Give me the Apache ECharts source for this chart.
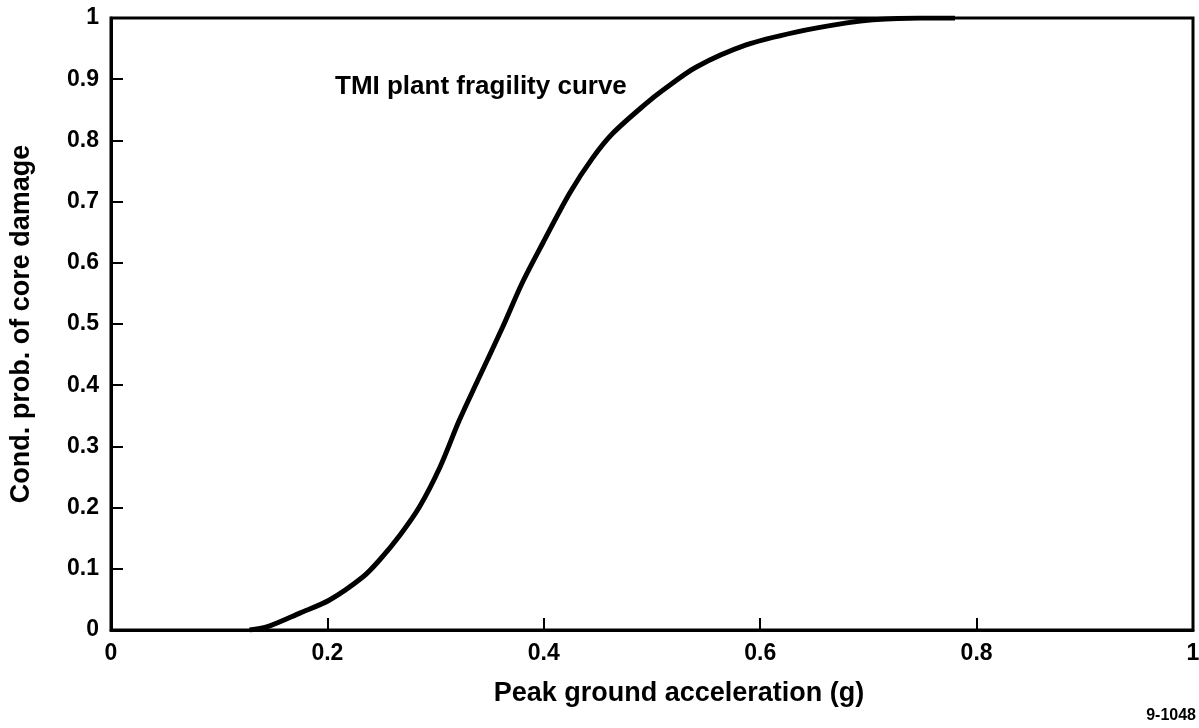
<!DOCTYPE html>
<html>
<head>
<meta charset="utf-8">
<script src="https://cdn.jsdelivr.net/npm/echarts@6/dist/echarts.min.js"></script>
<style>html,body{margin:0;padding:0;background:#fff}#c{width:1199px;height:728px}</style>
</head>
<body>
<div id="c"></div>
<script>
const accel = [0.128, 0.144, 0.175, 0.202, 0.233, 0.248, 0.267, 0.285, 0.304, 0.322, 0.339, 0.362, 0.380, 0.399, 0.424, 0.445, 0.464, 0.495, 0.510, 0.541, 0.587, 0.633, 0.680, 0.704, 0.747, 0.780];
const prob  = [0.000, 0.005, 0.028, 0.049, 0.087, 0.114, 0.155, 0.201, 0.266, 0.343, 0.408, 0.495, 0.567, 0.632, 0.714, 0.771, 0.812, 0.861, 0.882, 0.920, 0.956, 0.977, 0.992, 0.997, 1.000, 1.000];
const xTicks = ['0', '0.2', '0.4', '0.6', '0.8', '1'];
const yTicks = ['0', '0.1', '0.2', '0.3', '0.4', '0.5', '0.6', '0.7', '0.8', '0.9', '1'];
const curveLabel = 'TMI plant fragility curve';
const xTitle = 'Peak ground acceleration (g)';
const yTitle = 'Cond. prob. of core damage';
const figId = '9-1048';

const chart = echarts.init(document.getElementById('c'));
const FONT = '"Liberation Sans", Arial, sans-serif';
chart.setOption({
  animation: false,
  backgroundColor: '#fff',
  grid: { left: 111, right: 6, top: 18, bottom: 98, containLabel: false, outerBoundsMode: 'none',
    show: true, borderColor: '#000', borderWidth: 3, backgroundColor: 'transparent' },
  xAxis: {
    type: 'value', min: 0, max: 1, interval: 0.2,
    axisLine: { show: true, lineStyle: { color: '#000', width: 3 } },
    axisTick: { show: true, inside: true, length: 12, lineStyle: { color: '#000', width: 2 } },
    splitLine: { show: false },
    axisLabel: { color: '#000', fontFamily: FONT, fontWeight: 'bold', fontSize: 23, margin: 12,
      formatter: v => xTicks[Math.round(v * 5)] }
  },
  yAxis: {
    type: 'value', min: 0, max: 1, interval: 0.1,
    name: yTitle, nameLocation: 'middle', nameGap: 76, nameRotate: 90,
    nameTextStyle: { color: '#000', fontFamily: FONT, fontWeight: 'bold', fontSize: 27 },
    axisLine: { show: true, lineStyle: { color: '#000', width: 3 } },
    axisTick: { show: true, inside: true, length: 12, lineStyle: { color: '#000', width: 2 } },
    splitLine: { show: false },
    axisLabel: { color: '#000', fontFamily: FONT, fontWeight: 'bold', fontSize: 23, margin: 12,
      formatter: v => yTicks[Math.round(v * 10)] }
  },
  graphic: [
    { type: 'text', left: 335, top: 74, style: { text: curveLabel, fill: '#000', font: 'bold 26px ' + FONT } },
    { type: 'text', x: 679, y: 694, style: { text: xTitle, fill: '#000', font: 'bold 27px ' + FONT, textAlign: 'center', textVerticalAlign: 'middle' } },
    { type: 'text', right: 3, top: 708, style: { text: figId, fill: '#000', font: 'bold 16px ' + FONT } }
  ],
  series: [{
    type: 'line', smooth: 0.3, symbol: 'none',
    data: accel.map((x, i) => [x, prob[i]]),
    lineStyle: { color: '#000', width: 5 }
  }]
});
</script>
</body>
</html>
